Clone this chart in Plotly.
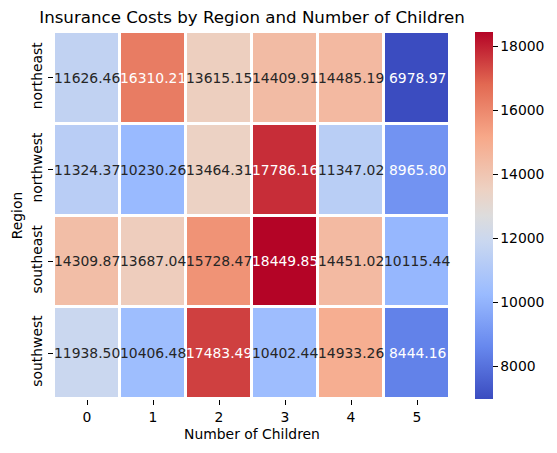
import plotly.graph_objects as go

regions = ["northeast", "northwest", "southeast", "southwest"]
children = ["0", "1", "2", "3", "4", "5"]
northeast = [11626.46, 16310.21, 13615.15, 14409.91, 14485.19, 6978.97]
northwest = [11324.37, 10230.26, 13464.31, 17786.16, 11347.02, 8965.80]
southeast = [14309.87, 13687.04, 15728.47, 18449.85, 14451.02, 10115.44]
southwest = [11938.50, 10406.48, 17483.49, 10402.44, 14933.26, 8444.16]
z = [northeast, northwest, southeast, southwest]

coolwarm = [
    [0.0, "#3b4cc0"], [1 / 7, "#6788ee"], [2 / 7, "#9abbff"], [3 / 7, "#c9d7f0"], [0.5, "#dddcdc"],
    [4 / 7, "#edd1c2"], [5 / 7, "#f7a889"], [6 / 7, "#e26952"], [1.0, "#b40426"],
]

DARK = "#262626"
fig = go.Figure(go.Heatmap(
    z=z, x=children, y=regions, colorscale=coolwarm,
    xgap=3, ygap=3, hoverongaps=False,
    colorbar=dict(
        thickness=18, thicknessmode="pixels", len=1, lenmode="fraction",
        xref="container", x=0.8506, xpad=0, xanchor="left", y=0, ypad=0, yanchor="bottom",
        outlinewidth=0, ticks="outside", ticklen=5, tickwidth=1, tickcolor="black",
        tickvals=[8000, 10000, 12000, 14000, 16000, 18000], tickformat="d",
        tickfont=dict(size=13.9, color="black"),
    ),
))
for r, row in zip(regions, z):
    for c, v in zip(children, row):
        fig.add_annotation(x=c, y=r, text=f"{v:.2f}", showarrow=False,
                           font=dict(size=13.9, color="white" if v >= 16000 or v <= 9000 else DARK))
fig.update_layout(
    width=549, height=445, autosize=False,
    margin=dict(l=46.3, r=106.7, t=23.5, b=53.5),
    paper_bgcolor="white", plot_bgcolor="white",
    font=dict(family="DejaVu Sans", color="black"),
    title=dict(text="Insurance Costs by Region and Number of Children", font=dict(size=16.67, color="black"),
               x=0.5, xref="paper", xanchor="center", y=1 - 9 / 445, yanchor="middle"),
    xaxis=dict(title=dict(text="Number of Children", font=dict(size=13.9), standoff=5), automargin=False,
               range=[-0.5, 5.5], ticks="outside", ticklen=5, tickcolor="black", tickfont=dict(size=13.9),
               showgrid=False, zeroline=False),
    yaxis=dict(title=dict(text="Region", font=dict(size=13.9), standoff=3), automargin=False, range=[3.5, -0.5],
               ticks="outside", ticklen=5, tickcolor="black", tickangle=-90, tickfont=dict(size=13.9),
               showgrid=False, zeroline=False),
)
fig.write_html("out.html")
